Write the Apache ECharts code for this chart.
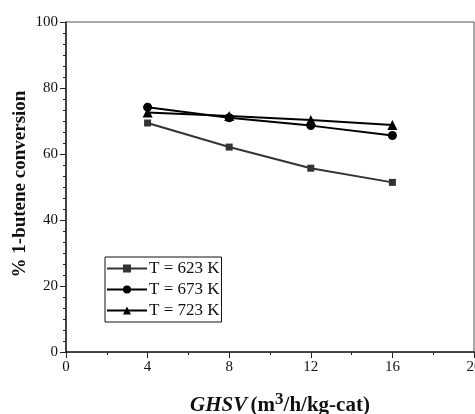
<!DOCTYPE html>
<html><head><meta charset="utf-8">
<script src="https://cdn.jsdelivr.net/npm/echarts@6/dist/echarts.min.js"></script>
<style>html,body{margin:0;padding:0;background:#fff}#c{width:475px;height:414px}</style>
</head><body><div id="c"></div>
<script>
const ghsv = [4, 8, 12, 16];
const seriesNames = ['T = 623 K', 'T = 673 K', 'T = 723 K'];
const conv623 = [69.4, 62.1, 55.7, 51.4];
const conv673 = [74.2, 71.0, 68.6, 65.6];
const conv723 = [72.6, 71.5, 70.3, 68.8];
const xTicks = [0, 4, 8, 12, 16, 20];
const yTicks = [0, 20, 40, 60, 80, 100];

const font = '"Liberation Serif", "Times New Roman", serif';
const pair = (vals) => ghsv.map((x, i) => [x, vals[i]]);

const chart = echarts.init(document.getElementById('c'), null, {renderer: 'canvas'});
const mk = (name, vals, symbol, size, color) => ({
  name, type: 'line', data: pair(vals), symbol, symbolSize: size,
  lineStyle: {color, width: 2}, itemStyle: {color}, animation: false
});
chart.setOption({
  animation: false,
  grid: {left: 66, right: 1, top: 22, bottom: 62, show: true, borderColor: '#555', borderWidth: 1,
         containLabel: false, outerBoundsMode: 'none'},
  xAxis: {
    type: 'value', min: xTicks[0], max: xTicks[xTicks.length - 1], interval: 4,
    axisLine: {show: true, lineStyle: {color: '#222', width: 1.5}},
    axisTick: {show: true, length: 6, lineStyle: {color: '#222'}},
    minorTick: {show: true, splitNumber: 2, length: 3, lineStyle: {color: '#222'}},
    splitLine: {show: false},
    axisLabel: {color: '#111', fontFamily: font, fontSize: 15, margin: 8}
  },
  yAxis: {
    type: 'value', min: yTicks[0], max: yTicks[yTicks.length - 1], interval: 20,
    axisLine: {show: true, lineStyle: {color: '#222', width: 1.5}},
    axisTick: {show: true, length: 6, lineStyle: {color: '#222'}},
    minorTick: {show: true, splitNumber: 6, length: 3, lineStyle: {color: '#222'}},
    splitLine: {show: false},
    axisLabel: {color: '#111', fontFamily: font, fontSize: 15, margin: 8}
  },
  legend: {
    orient: 'vertical', left: 105, top: 257,
    borderColor: '#111', borderWidth: 1, padding: [3, 2, 3, 1],
    itemWidth: 40, itemHeight: 10, itemGap: 4,
    textStyle: {fontFamily: font, fontSize: 17, color: '#111', padding: [0, 0, 0, -3]},
    data: seriesNames
  },
  series: [
    mk(seriesNames[0], conv623, 'rect', 7, '#333'),
    mk(seriesNames[1], conv673, 'circle', 9, '#000'),
    mk(seriesNames[2], conv723, 'triangle', 10, '#000')
  ],
  graphic: [
    {type: 'text', x: 20, y: 184, rotation: Math.PI / 2,
     style: {text: '% 1-butene conversion', font: 'bold 19px ' + font, fill: '#111', align: 'center', verticalAlign: 'middle'}},
    {type: 'text', x: 280, y: 406,
     style: {text: '{i|GHSV} {b|(m}{s|3}{b|/h/kg-cat)}', align: 'center', verticalAlign: 'middle',
       rich: {
         i: {font: 'italic bold 21px ' + font, fill: '#111'},
         b: {font: 'bold 21px ' + font, fill: '#111'},
         s: {font: 'bold 17px ' + font, fill: '#111', verticalAlign: 'top', padding: [0, 0, 12, 0]}
       }}}
  ]
});
</script></body></html>
